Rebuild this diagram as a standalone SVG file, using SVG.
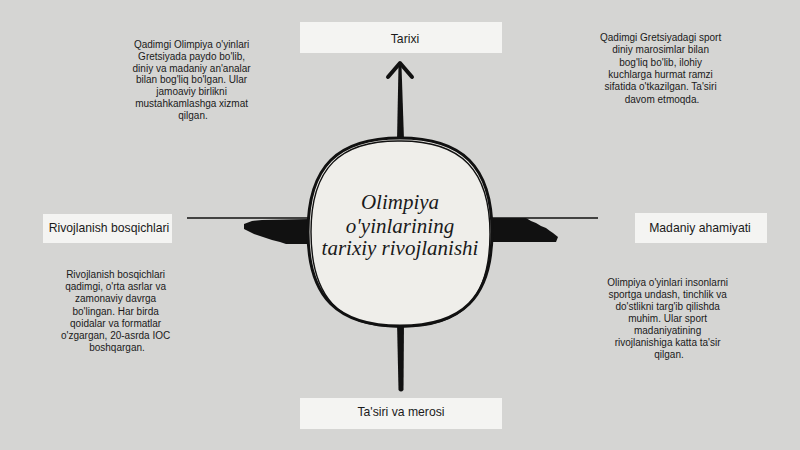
<svg xmlns="http://www.w3.org/2000/svg" width="800" height="450" viewBox="0 0 800 450">
<style>
.box{fill:#f4f4f2;}
.lbl{font-family:"Liberation Sans",Arial,sans-serif;font-size:12.2px;fill:#1a1a1a;text-anchor:middle;}
.desc{font-family:"Liberation Sans",Arial,sans-serif;font-size:10px;fill:#1a1a1a;text-anchor:middle;}
.title{font-family:"Liberation Serif","DejaVu Serif",serif;font-style:italic;font-size:21px;fill:#1a1a1a;text-anchor:middle;}
.ink{fill:#111;}
.thin{stroke:#111;stroke-width:1.5;fill:none;}
</style>
<rect width="800" height="450" fill="#d5d5d3"/>
<g id="connectors">
  <path class="ink" d="M397,140 L398.5,66 L401.5,66 L404,140 Z"/>
  <polyline points="388,77 400,63 412,77" fill="none" stroke="#111" stroke-width="4" stroke-linecap="round" stroke-linejoin="round"/>
  <path class="ink" d="M397,322 L404,322 L403.5,390 Q401,393 398.5,390 Z"/>
  <line class="thin" x1="187" y1="218" x2="310" y2="218"/>
  <polygon class="ink" points="244,224 252,221 262,220 310,219 310,244 286,244 280,242 272,240 266,238 260,236 254,234 250,232 244,229"/>
  <line class="thin" x1="490" y1="218" x2="598" y2="218"/>
  <polygon class="ink" points="490,218 526,218 531,221 536,223 541,226 546,228 550,231 553,233 558,237 556,242 490,242"/>
</g>
<g id="center">
  <path d="M400,138 C462,138 492,166 492,232 C492,298 462,326 400,326 C338,326 308,298 308,232 C308,166 338,138 400,138 Z" fill="#efeeea" stroke="#111" stroke-width="3"/>
  <path d="M401,141 C461,141 490,170 490,234 C490,300 461,328 399,327 C339,327 311,297 311,232 C311,168 340,140 401,141 Z" fill="none" stroke="#111" stroke-width="1.4"/>
  <text class="title" x="400" y="209">Olimpiya</text>
  <text class="title" x="400" y="233">o'yinlarining</text>
  <text class="title" x="400" y="255">tarixiy rivojlanishi</text>
</g>
<g id="tarixi">
  <rect class="box" x="300" y="22" width="202" height="31"/>
  <text class="lbl" x="405" y="43">Tarixi</text>
</g>
<g id="rivojlanish">
  <rect class="box" x="43" y="214" width="129" height="29"/>
  <text class="lbl" x="109" y="232">Rivojlanish bosqichlari</text>
</g>
<g id="madaniy">
  <rect class="box" x="635" y="213" width="132" height="30"/>
  <text class="lbl" x="700" y="232">Madaniy ahamiyati</text>
</g>
<g id="tasiri">
  <rect class="box" x="300" y="398" width="202" height="31"/>
  <text class="lbl" x="401" y="416">Ta'siri va merosi</text>
</g>
<g id="desc-tl">
  <text class="desc" x="193" y="48">
    <tspan x="193" dy="0">Qadimgi Olimpiya o'yinlari</tspan>
    <tspan x="193" dy="11.8">Gretsiyada paydo bo'lib,</tspan>
    <tspan x="193" dy="11.8">diniy va madaniy an'analar</tspan>
    <tspan x="193" dy="11.8">bilan bog'liq bo'lgan. Ular</tspan>
    <tspan x="193" dy="11.8">jamoaviy birlikni</tspan>
    <tspan x="193" dy="11.8">mustahkamlashga xizmat</tspan>
    <tspan x="193" dy="11.8">qilgan.</tspan>
  </text>
</g>
<g id="desc-tr">
  <text class="desc" x="662" y="41">
    <tspan x="662" dy="0">Qadimgi Gretsiyadagi sport</tspan>
    <tspan x="662" dy="12.3">diniy marosimlar bilan</tspan>
    <tspan x="662" dy="12.3">bog'liq bo'lib, ilohiy</tspan>
    <tspan x="662" dy="12.3">kuchlarga hurmat ramzi</tspan>
    <tspan x="662" dy="12.3">sifatida o'tkazilgan. Ta'siri</tspan>
    <tspan x="662" dy="12.3">davom etmoqda.</tspan>
  </text>
</g>
<g id="desc-bl">
  <text class="desc" x="117" y="278">
    <tspan x="117" dy="0">Rivojlanish bosqichlari</tspan>
    <tspan x="117" dy="12.2">qadimgi, o'rta asrlar va</tspan>
    <tspan x="117" dy="12.2">zamonaviy davrga</tspan>
    <tspan x="117" dy="12.2">bo'lingan. Har birda</tspan>
    <tspan x="117" dy="12.2">qoidalar va formatlar</tspan>
    <tspan x="117" dy="12.2">o'zgargan, 20-asrda IOC</tspan>
    <tspan x="117" dy="12.2">boshqargan.</tspan>
  </text>
</g>
<g id="desc-br">
  <text class="desc" x="669" y="286">
    <tspan x="669" dy="0">Olimpiya o'yinlari insonlarni</tspan>
    <tspan x="669" dy="12">sportga undash, tinchlik va</tspan>
    <tspan x="669" dy="12">do'stlikni targ'ib qilishda</tspan>
    <tspan x="669" dy="12">muhim. Ular sport</tspan>
    <tspan x="669" dy="12">madaniyatining</tspan>
    <tspan x="669" dy="12">rivojlanishiga katta ta'sir</tspan>
    <tspan x="669" dy="12">qilgan.</tspan>
  </text>
</g>
</svg>
